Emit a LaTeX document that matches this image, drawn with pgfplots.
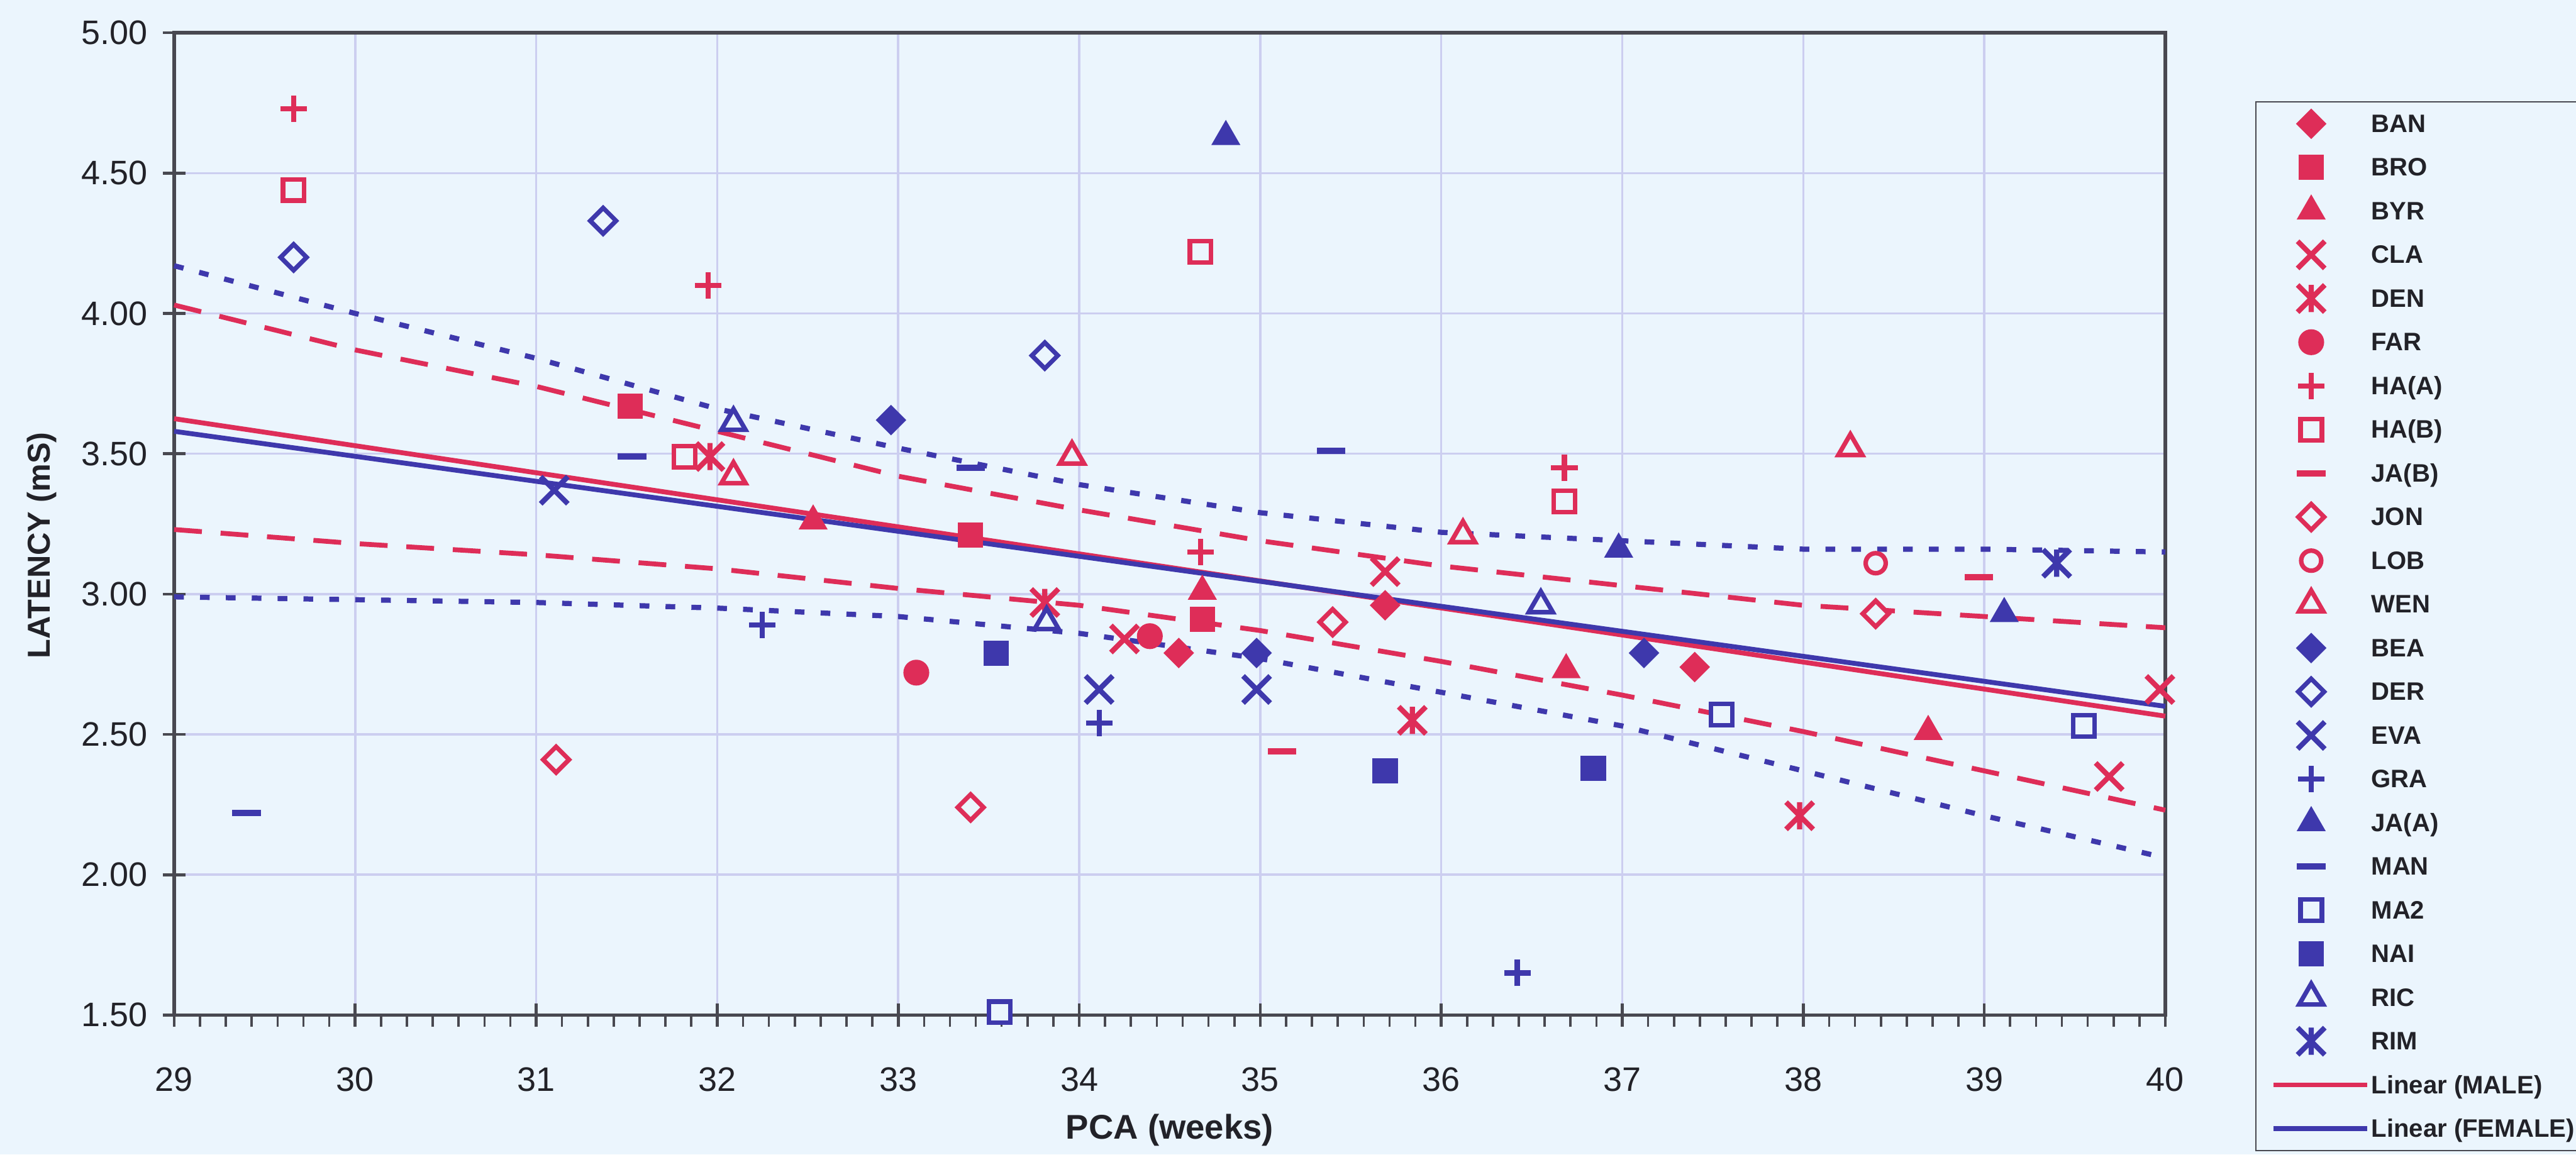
\documentclass[border=0pt]{standalone}
\usepackage{pgfplots}
\pgfplotsset{compat=1.18}
\usepackage{fontspec}
\setmainfont{Liberation Sans}

\definecolor{bg}{RGB}{235,245,253}
\definecolor{gridc}{RGB}{204,206,240}
\definecolor{mred}{RGB}{222,45,88}
\definecolor{mblue}{RGB}{62,56,172}
\definecolor{axc}{RGB}{72,72,80}
\definecolor{txt}{RGB}{34,34,40}

% Excel-like marker shapes
\pgfdeclareplotmark{xdiamond*}{%
  \pgfpathmoveto{\pgfqpoint{0pt}{\pgfplotmarksize}}%
  \pgfpathlineto{\pgfqpoint{\pgfplotmarksize}{0pt}}%
  \pgfpathlineto{\pgfqpoint{0pt}{-\pgfplotmarksize}}%
  \pgfpathlineto{\pgfqpoint{-\pgfplotmarksize}{0pt}}%
  \pgfpathclose\pgfusepathqfillstroke}
\pgfdeclareplotmark{ex}{%
  \pgfpathmoveto{\pgfqpoint{-\pgfplotmarksize}{-\pgfplotmarksize}}%
  \pgfpathlineto{\pgfqpoint{\pgfplotmarksize}{\pgfplotmarksize}}%
  \pgfpathmoveto{\pgfqpoint{-\pgfplotmarksize}{\pgfplotmarksize}}%
  \pgfpathlineto{\pgfqpoint{\pgfplotmarksize}{-\pgfplotmarksize}}%
  \pgfusepathqstroke}
\pgfdeclareplotmark{xstar}{%
  \pgfpathmoveto{\pgfqpoint{-\pgfplotmarksize}{-\pgfplotmarksize}}%
  \pgfpathlineto{\pgfqpoint{\pgfplotmarksize}{\pgfplotmarksize}}%
  \pgfpathmoveto{\pgfqpoint{-\pgfplotmarksize}{\pgfplotmarksize}}%
  \pgfpathlineto{\pgfqpoint{\pgfplotmarksize}{-\pgfplotmarksize}}%
  \pgfpathmoveto{\pgfqpoint{0pt}{-\pgfplotmarksize}}%
  \pgfpathlineto{\pgfqpoint{0pt}{\pgfplotmarksize}}%
  \pgfusepathqstroke}
\pgfdeclareplotmark{plus}{%
  \pgfpathmoveto{\pgfqpoint{-\pgfplotmarksize}{0pt}}%
  \pgfpathlineto{\pgfqpoint{\pgfplotmarksize}{0pt}}%
  \pgfpathmoveto{\pgfqpoint{0pt}{-\pgfplotmarksize}}%
  \pgfpathlineto{\pgfqpoint{0pt}{\pgfplotmarksize}}%
  \pgfusepathqstroke}
\pgfdeclareplotmark{bar}{%
  \pgfpathrectangle{\pgfqpoint{-\pgfplotmarksize}{-0.22\pgfplotmarksize}}%
    {\pgfqpoint{2\pgfplotmarksize}{0.44\pgfplotmarksize}}%
  \pgfusepathqfill}

\pgfplotsset{
  pts/.style={only marks,
    legend image code/.code={\path (0cm,0cm) (1.02cm,0cm);
      \draw plot coordinates {(0.41cm,0cm)};}},
  fitline/.style={no markers,
    legend image code/.code={\draw (0cm,0cm) -- (1.02cm,0cm);}},
  fR/.style={mark options={draw=mred, fill=mred, line width=0.6pt, solid}},
  oR/.style={mark options={draw=mred, fill=bg, line width=1.4pt, solid}},
  sR/.style={mark options={draw=mred, line width=1.6pt, solid}},
  fB/.style={mark options={draw=mblue, fill=mblue, line width=0.6pt, solid}},
  oB/.style={mark options={draw=mblue, fill=bg, line width=1.4pt, solid}},
  sB/.style={mark options={draw=mblue, line width=1.6pt, solid}},
}

\begin{document}
\begin{tikzpicture}
\fill[bg] (0,0) rectangle (28cm,12.5536cm);
\useasboundingbox (0,0) rectangle (28cm,12.5536cm);
\clip (0,0) rectangle (28cm,12.5536cm);
\begin{axis}[
  at={(1.8929cm,1.5179cm)}, anchor=south west,
  scale only axis, width=21.643cm, height=10.679cm,
  xmin=29, xmax=40, ymin=1.5, ymax=5,
  xtick={29,...,40}, ytick={1.5,2,...,5},
  minor xtick={29,29.142857,...,40},
  tick pos=left, tick align=center,
  major tick length=0.25cm, minor tick length=0.13cm,
  major tick style={axc, line width=0.9pt},
  minor tick style={axc, line width=0.7pt, yshift=-0.065cm},
  grid=major, major grid style={gridc, line width=0.7pt},
  minor grid style={draw=none},
  axis line style={axc, line width=1.1pt},
  clip=false,
  /pgf/number format/assume math mode=true,
  ticklabel style={font=\fontsize{10.5}{12}\selectfont, text=txt},
  xticklabel style={inner ysep=0pt, yshift=-0.44cm},
  yticklabel style={inner xsep=0pt, xshift=-0.16cm,
    /pgf/number format/fixed, /pgf/number format/fixed zerofill,
    /pgf/number format/precision=2},
  xlabel={PCA (weeks)},
  xlabel style={font=\fontsize{10.6}{12}\selectfont\bfseries, text=txt,
    at={(axis description cs:0.5,-0.117)}, anchor=center},
  ylabel={LATENCY (mS)},
  ylabel style={font=\fontsize{9.8}{12}\selectfont\bfseries, text=txt,
    at={(axis description cs:-0.0665,0.478)}, anchor=center},
  legend cell align=left,
  legend style={at={(axis description cs:1.0451,0.9303)}, anchor=north west,
    draw=axc, fill=bg, inner xsep=0.166cm, inner ysep=0pt,
    column sep=0pt, row sep=0pt,
    font=\fontsize{7.8}{9}\selectfont\bfseries, text=txt,
    nodes={inner xsep=0.5pt, inner ysep=0pt, text height=0.33cm, text depth=0.145cm}},
]
% ---- male subjects (red) ----
\addplot[pts, mark=xdiamond*, mark size=4.3pt, fR] coordinates {(34.55,2.79) (35.69,2.96) (37.40,2.74)};
\addlegendentry{BAN}
\addplot[pts, mark=square*, mark size=3.6pt, fR] coordinates {(31.52,3.67) (33.40,3.21) (34.68,2.91)};
\addlegendentry{BRO}
\addplot[pts, mark=triangle*, mark size=4.6pt, fR] coordinates {(32.53,3.26) (34.68,3.01) (36.69,2.73) (38.69,2.51)};
\addlegendentry{BYR}
\addplot[pts, mark=ex, mark size=4.2pt, sR] coordinates {(34.25,2.84) (35.69,3.08) (39.97,2.66) (39.69,2.35)};
\addlegendentry{CLA}
\addplot[pts, mark=xstar, mark size=4.2pt, sR] coordinates {(31.96,3.49) (33.81,2.97) (35.84,2.55) (37.98,2.21)};
\addlegendentry{DEN}
\addplot[pts, mark=*, mark size=3.7pt, fR] coordinates {(33.10,2.72) (34.39,2.85)};
\addlegendentry{FAR}
\addplot[pts, mark=plus, mark size=4.1pt, sR] coordinates {(29.66,4.73) (31.95,4.10) (34.67,3.15) (36.68,3.45)};
\addlegendentry{HA(A)}
\addplot[pts, mark=square*, mark size=3.3pt, oR] coordinates {(29.66,4.44) (31.82,3.49) (34.67,4.22) (36.68,3.33)};
\addlegendentry{HA(B)}
\addplot[pts, mark=bar, mark size=4.4pt, fR] coordinates {(35.12,2.44) (38.97,3.06)};
\addlegendentry{JA(B)}
\addplot[pts, mark=xdiamond*, mark size=4.0pt, oR] coordinates {(31.11,2.41) (33.40,2.24) (35.40,2.90) (38.40,2.93)};
\addlegendentry{JON}
\addplot[pts, mark=*, mark size=3.1pt, oR] coordinates {(38.40,3.11)};
\addlegendentry{LOB}
\addplot[pts, mark=triangle*, mark size=4.3pt, oR] coordinates {(32.09,3.42) (33.96,3.49) (36.12,3.21) (38.26,3.52)};
\addlegendentry{WEN}
% ---- female subjects (blue) ----
\addplot[pts, mark=xdiamond*, mark size=4.3pt, fB] coordinates {(32.96,3.62) (34.98,2.79) (37.12,2.79)};
\addlegendentry{BEA}
\addplot[pts, mark=xdiamond*, mark size=4.0pt, oB] coordinates {(29.66,4.20) (31.37,4.33) (33.81,3.85)};
\addlegendentry{DER}
\addplot[pts, mark=ex, mark size=4.2pt, sB] coordinates {(31.10,3.37) (34.11,2.66) (34.98,2.66)};
\addlegendentry{EVA}
\addplot[pts, mark=plus, mark size=4.1pt, sB] coordinates {(32.25,2.89) (34.11,2.54) (36.42,1.65)};
\addlegendentry{GRA}
\addplot[pts, mark=triangle*, mark size=4.6pt, fB] coordinates {(34.81,4.63) (36.98,3.16) (39.11,2.93)};
\addlegendentry{JA(A)}
\addplot[pts, mark=bar, mark size=4.4pt, fB] coordinates {(29.40,2.22) (31.53,3.49) (33.40,3.45) (35.39,3.51)};
\addlegendentry{MAN}
\addplot[pts, mark=square*, mark size=3.3pt, oB] coordinates {(33.56,1.51) (37.55,2.57) (39.55,2.53)};
\addlegendentry{MA2}
\addplot[pts, mark=square*, mark size=3.6pt, fB] coordinates {(33.54,2.79) (35.69,2.37) (36.84,2.38)};
\addlegendentry{NAI}
\addplot[pts, mark=triangle*, mark size=4.3pt, oB] coordinates {(32.09,3.61) (33.82,2.90) (36.55,2.96)};
\addlegendentry{RIC}
\addplot[pts, mark=xstar, mark size=4.2pt, sB] coordinates {(39.40,3.11)};
\addlegendentry{RIM}
% ---- confidence bands ----
\addplot[forget plot, no markers, mred, line width=1.5pt, dash pattern=on 8.6pt off 5.8pt]
  coordinates {(29,4.03) (30,3.87) (31,3.74) (32,3.58) (33,3.42) (34,3.30) (35,3.19) (36,3.10) (37,3.03) (38,2.96) (39,2.92) (40,2.88)};
\addplot[forget plot, no markers, mred, line width=1.5pt, dash pattern=on 8.6pt off 5.8pt]
  coordinates {(29,3.23) (30,3.18) (31,3.14) (32,3.09) (33,3.02) (34,2.96) (35,2.87) (36,2.76) (37,2.64) (38,2.51) (39,2.37) (40,2.23)};
\addplot[forget plot, no markers, mblue, line width=1.6pt, dash pattern=on 3pt off 5pt]
  coordinates {(29,4.17) (30,4.00) (31,3.84) (32,3.66) (33,3.52) (34,3.39) (35,3.29) (36,3.22) (37,3.19) (38,3.16) (39,3.16) (40,3.15)};
\addplot[forget plot, no markers, mblue, line width=1.6pt, dash pattern=on 3pt off 5pt]
  coordinates {(29,2.99) (30,2.98) (31,2.97) (32,2.95) (33,2.92) (34,2.86) (35,2.77) (36,2.65) (37,2.53) (38,2.37) (39,2.21) (40,2.06)};
% ---- linear fits ----
\addplot[fitline, mred, line width=1.5pt] coordinates {(29,3.625) (40,2.565)};
\addlegendentry{Linear (MALE)}
\addplot[fitline, mblue, line width=1.5pt] coordinates {(29,3.58) (40,2.60)};
\addlegendentry{Linear (FEMALE)}
\end{axis}
\end{tikzpicture}
\end{document}
